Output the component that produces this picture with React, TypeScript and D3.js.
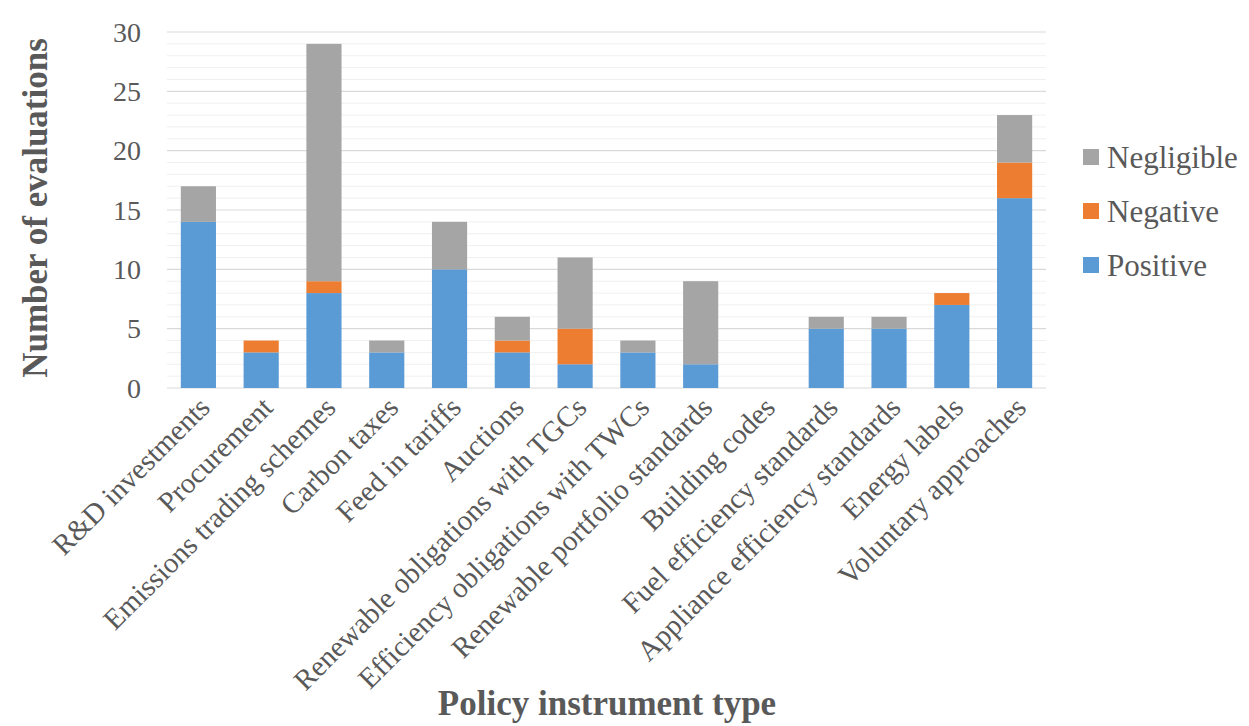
import React from "react";
import * as d3 from "d3";

const categories = [
  "R&D investments",
  "Procurement",
  "Emissions trading schemes",
  "Carbon taxes",
  "Feed in tariffs",
  "Auctions",
  "Renewable obligations with TGCs",
  "Efficiency obligations with TWCs",
  "Renewable portfolio standards",
  "Building codes",
  "Fuel efficiency standards",
  "Appliance efficiency standards",
  "Energy labels",
  "Voluntary approaches",
];
const positive = [14, 3, 8, 3, 10, 3, 2, 3, 2, 0, 5, 5, 7, 16];
const negative = [0, 1, 1, 0, 0, 1, 3, 0, 0, 0, 0, 0, 1, 3];
const negligible = [3, 0, 20, 1, 4, 2, 6, 1, 7, 0, 1, 1, 0, 4];
const seriesNames = ["Positive", "Negative", "Negligible"];
const seriesColors = ["#5B9BD5", "#ED7D31", "#A5A5A5"];
const yTicks = [0, 5, 10, 15, 20, 25, 30];

const W = 1249;
const H = 726;
const FONT = "Liberation Serif, DejaVu Serif, serif";
const TXT = "#595959";

export default function App() {
  const left = 167;
  const right = 1046;
  const top = 32;
  const bottom = 388;

  const x = d3.scaleBand<string>().domain(categories).range([left, right]).paddingInner(0.44).paddingOuter(0.22);
  const y = d3.scaleLinear().domain([0, 30]).range([bottom, top]);

  const rows = categories.map((c, i) => ({ cat: c, Positive: positive[i], Negative: negative[i], Negligible: negligible[i] }));
  const stacked = d3.stack<any>().keys(seriesNames)(rows);

  const minor = d3.range(0, 31, 1).filter((v) => v % 5 !== 0);
  const ts = { fontFamily: FONT };

  return (
    <svg width={W} height={H} style={{ display: "block", position: "absolute", left: 0, top: 0 }}>
      <rect width={W} height={H} fill="#fff" />
      {minor.map((v) => (
        <line key={"m" + v} x1={left} x2={right} y1={y(v)} y2={y(v)} stroke="#f0f0f0" strokeWidth={1} />
      ))}
      {yTicks.map((v) => (
        <line key={"g" + v} x1={left} x2={right} y1={y(v)} y2={y(v)} stroke="#d9d9d9" strokeWidth={1.2} />
      ))}
      {yTicks.map((v) => (
        <text key={"t" + v} x={141} y={y(v)} dy="0.35em" textAnchor="end" fontSize={28} fill={TXT} style={ts}>
          {v}
        </text>
      ))}
      {stacked.map((s, si) =>
        s.map((d, i) =>
          d[1] - d[0] > 0 ? (
            <rect
              key={si + "-" + i}
              x={x(categories[i])}
              width={x.bandwidth()}
              y={y(d[1])}
              height={y(d[0]) - y(d[1])}
              fill={seriesColors[si]}
            />
          ) : null
        )
      )}
      {categories.map((c) => {
        const cx = (x(c) as number) + x.bandwidth() / 2 + 6;
        const cy = 402;
        return (
          <text
            key={"c" + c}
            transform={`translate(${cx},${cy}) rotate(-45)`}
            textAnchor="end"
            fontSize={29}
            fill={TXT}
            dy="0.35em"
            style={ts}
          >
            {c}
          </text>
        );
      })}
      <text
        transform={`translate(47,208) rotate(-90)`}
        textAnchor="middle"
        fontSize={35}
        fontWeight="bold"
        fill={TXT}
        style={ts}
      >
        Number of evaluations
      </text>
      <text x={607} y={715} textAnchor="middle" fontSize={35} fontWeight="bold" fill={TXT} style={ts}>
        Policy instrument type
      </text>
      {[2, 1, 0].map((si, k) => (
        <g key={"l" + si} transform={`translate(1083,${157 + k * 54})`}>
          <rect x={0} y={-8} width={16} height={16} fill={seriesColors[si]} />
          <text x={24} y={0} dy="0.35em" fontSize={31} fill={TXT} style={ts}>
            {seriesNames[si]}
          </text>
        </g>
      ))}
    </svg>
  );
}
